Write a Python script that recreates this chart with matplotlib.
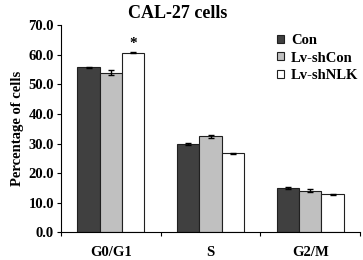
import numpy as np
from matplotlib import pyplot as plt

''' ---------------- data ---------------- '''
phases = ['G0/G1', 'S', 'G2/M']
groups = ['Con', 'Lv-shCon', 'Lv-shNLK']
con = [55.7, 29.8, 15.0]
con_err = [0.3, 0.3, 0.3]
shcon = [53.9, 32.4, 14.1]
shcon_err = [0.8, 0.6, 0.6]
shnlk = [60.7, 26.7, 12.9]
shnlk_err = [0.2, 0.15, 0.2]

colors = ['#404040', '#c0c0c0', '#ffffff']

plt.rcParams['font.family'] = ['Liberation Serif', 'DejaVu Serif']
plt.rcParams['font.weight'] = 'bold'

fig = plt.figure(figsize=(3.63, 2.6), dpi=100)
ax = fig.add_axes([0.168, 0.1065, 0.824, 0.797])

x = np.arange(len(phases))
w = 0.224
series = [(con, con_err), (shcon, shcon_err), (shnlk, shnlk_err)]
for i, (vals, errs) in enumerate(series):
    ax.bar(x + (i - 1) * w, vals, w, yerr=errs, color=colors[i],
           edgecolor='#202020', linewidth=0.8, label=groups[i],
           error_kw=dict(ecolor='black', elinewidth=1.0, capsize=2, capthick=1.0))

# significance mark
ax.text(x[0] + w, shnlk[0] + 1.0, '*', ha='center', va='bottom', fontsize=11)

ax.set_xlim(-0.5, 2.5)
ax.set_ylim(0, 70)
ax.set_yticks(np.arange(0, 71, 10))
ax.set_yticklabels(['%.1f' % v for v in np.arange(0, 71, 10)], fontsize=10.5, fontweight='bold')
ax.set_xticks([-0.5, 0.5, 1.5, 2.5])
ax.set_xticklabels([])
ax.set_xticks(x, minor=True)
ax.set_xticklabels(phases, minor=True, fontsize=10.5, fontweight='bold')
ax.tick_params(axis='x', which='minor', length=0, pad=10)
ax.tick_params(axis='x', which='major', length=3, direction='out')
ax.tick_params(axis='y', length=3, direction='out', pad=2)
ax.spines['top'].set_visible(False)
ax.spines['right'].set_visible(False)
ax.set_ylabel('Percentage of cells', fontsize=10.5, fontweight='bold', labelpad=3)

fig.text(178 / 363, 1 - 13 / 260, 'CAL-27 cells', ha='center', va='center',
         fontsize=13, fontweight='bold')

fig.legend(loc='upper left', bbox_to_anchor=(0.763, 0.87), frameon=False,
           fontsize=10.5, handlelength=0.45, handleheight=0.45, handletextpad=0.5,
           labelspacing=0.33, borderaxespad=0, borderpad=0)

plt.savefig('out.png', dpi=100)
